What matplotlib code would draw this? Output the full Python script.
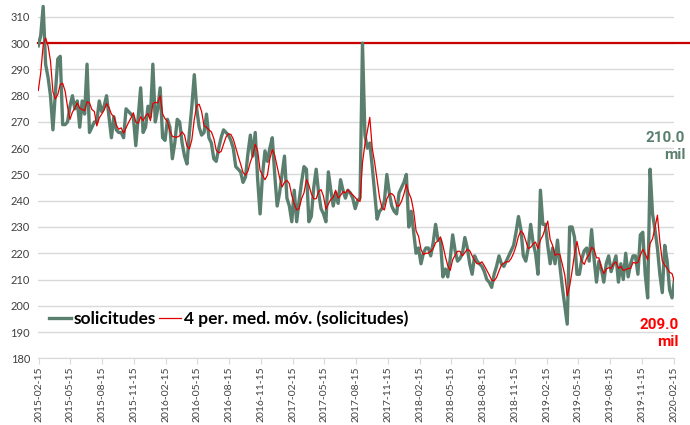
import numpy as np
import pandas as pd
import matplotlib
matplotlib.use("Agg")
import matplotlib.pyplot as plt
import matplotlib.dates as mdates

# =============================================================================
# data: weekly claims (thousands), week ending 2015-02-14 .. 2020-02-15
# =============================================================================
warmup = [276, 272, 281]   # 3 weeks before the axis start, only feed the moving average

claims_2015 = [299, 303, 314, 292, 287, 280, 267, 281, 294, 295, 269, 269, 270,
               276, 280, 275, 278, 268, 278, 273, 292, 266, 268, 270, 270, 278,
               274, 276, 280, 272, 264, 272, 267, 266, 266, 264, 275, 274, 273,
               272, 261, 272, 283, 266, 268, 276, 272, 292, 270, 275, 283, 264]
claims_2016 = [263, 271, 268, 256, 262, 271, 270, 262, 257, 254, 266, 276, 288,
               275, 268, 265, 266, 273, 264, 262, 256, 255, 260, 264, 267, 266,
               265, 263, 260, 253, 252, 251, 247, 249, 258, 265, 257, 266, 248,
               235, 250, 259, 255, 260, 264, 250, 238, 243, 250, 257, 241, 238]
claims_2017 = [232, 244, 232, 240, 247, 253, 252, 232, 234, 245, 252, 243, 237,
               235, 232, 251, 244, 238, 243, 239, 248, 244, 241, 244, 243, 241,
               237, 240, 241, 300, 265, 260, 262, 253, 243, 233, 236, 237, 240,
               250, 243, 238, 236, 235, 243, 245, 247, 250, 230, 236, 228, 220]
claims_2018 = [222, 216, 220, 222, 222, 219, 224, 231, 225, 225, 211, 214, 211,
               218, 227, 221, 217, 218, 220, 226, 222, 216, 212, 219, 217, 216,
               215, 213, 210, 209, 207, 212, 215, 219, 216, 215, 217, 219, 221,
               223, 228, 234, 229, 219, 217, 222, 231, 224, 220, 212, 244, 231]
claims_2019 = [231, 223, 216, 222, 216, 225, 215, 207, 200, 193, 230, 230, 226,
               212, 212, 218, 221, 222, 217, 229, 218, 209, 217, 214, 209, 216,
               219, 213, 216, 219, 209, 216, 210, 220, 211, 216, 219, 219, 212,
               227, 228, 212, 203, 252, 235, 229, 222, 212, 205, 223, 217, 206]
claims_2020 = [203, 210]

claims = warmup + claims_2015 + claims_2016 + claims_2017 + claims_2018 + claims_2019 + claims_2020
weeks = pd.date_range(end="2020-02-15", periods=len(claims), freq="7D")

s = pd.Series(claims, index=weeks, dtype=float)
ma4 = s.rolling(4).mean()
s = s.iloc[len(warmup):]
ma4 = ma4.iloc[len(warmup):]

# quarterly ticks on the 15th: 2015-02-15 ... 2020-02-15
tick_dates = pd.date_range("2015-02-01", "2020-02-01", freq="3MS") + pd.Timedelta(days=14)

green = "#5b7f6f"
red_line = "#c80000"

# =============================================================================
# plot
# =============================================================================
plt.rcParams["font.family"] = ["Lato", "DejaVu Sans"]

fig = plt.figure(figsize=(6.9, 4.25), dpi=100)
ax = fig.add_axes([0.0555, 0.157, 0.922, 0.834])

ax.plot(s.index, s.values, color=green, lw=2.4, label="solicitudes", zorder=3)
ax.plot(ma4.index, ma4.values, color="#e00000", lw=0.9,
        label="4 per. med. móv. (solicitudes)", zorder=4)
ax.plot([0, 1.03], [300, 300], color=red_line, lw=1.6,
        transform=ax.get_yaxis_transform(), clip_on=False, zorder=2)

ax.set_ylim(180, 315)
ax.set_yticks(np.arange(180, 311, 10))
ax.set_xlim(pd.Timestamp("2015-02-14"), pd.Timestamp("2020-02-15"))
ax.set_xticks(tick_dates)
ax.xaxis.set_major_formatter(mdates.DateFormatter("%Y-%m-%d"))

ax.grid(axis="y", color="#d9d9d9", lw=1)
ax.set_axisbelow(True)
for side in ["top", "right", "left"]:
    ax.spines[side].set_visible(False)
ax.spines["bottom"].set_color("#d9d9d9")
ax.tick_params(axis="y", length=0, labelsize=8, labelcolor="#404040", pad=6)
ax.tick_params(axis="x", length=4, color="#d9d9d9", labelsize=7.5,
               labelcolor="#404040", labelrotation=90, pad=2)

leg = ax.legend(loc="lower left", bbox_to_anchor=(-0.008, 0.045), ncol=2,
                frameon=False, handlelength=1.25, handletextpad=0.2,
                columnspacing=0.15, prop={"weight": "bold", "size": 12.5})

fig.text(0.993, 0.655, "210.0\nmil", color=green, ha="right", va="center",
         fontsize=11, fontweight="bold", family=["Roboto", "DejaVu Sans"],
         linespacing=1.25)
fig.text(0.983, 0.215, "209.0\nmil", color="#ff0000", ha="right", va="center",
         fontsize=11, fontweight="bold", family=["Roboto", "DejaVu Sans"],
         linespacing=1.25)

fig.savefig("out.png", dpi=100)
